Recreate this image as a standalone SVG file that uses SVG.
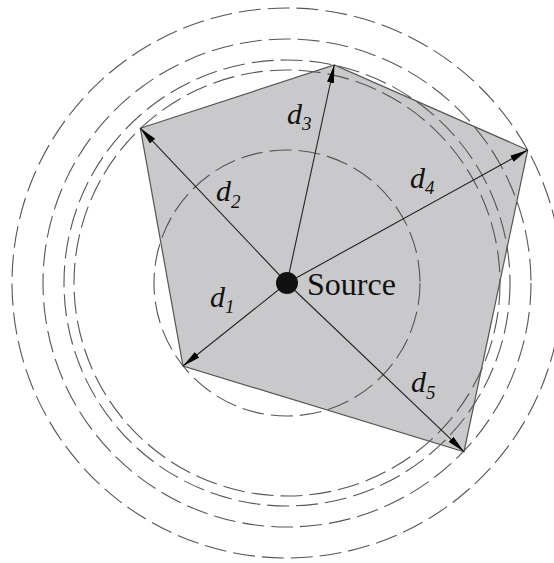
<svg xmlns="http://www.w3.org/2000/svg" width="554" height="563" viewBox="0 0 554 563">
<defs>
<style>
.circ{fill:none;stroke:#555;stroke-width:1.1;stroke-dasharray:22 7}
.ray{stroke:#222;stroke-width:1.1;fill:none;marker-end:url(#ah)}
.lbl{font-family:"Liberation Serif","Times New Roman",serif;font-style:italic;font-size:30px;fill:#111}
.sub{font-size:19px}
</style>
<marker id="ah" markerUnits="userSpaceOnUse" markerWidth="19" markerHeight="8" refX="18" refY="3.5" orient="auto">
<path d="M0,0 L18,3.5 L0,7 Z" fill="#000"/>
</marker>
</defs>
<rect width="554" height="563" fill="#fff"/>
<g id="region">
<polygon points="140.3,128.2 334.3,65 527.7,150 464,451.7 183,366" fill="#c9c9cb" stroke="#555" stroke-width="1.2" stroke-linejoin="miter"/>
</g>
<g id="circles">
<circle class="circ" cx="287" cy="283" r="133"/>
<circle class="circ" cx="287" cy="283" r="213"/>
<circle class="circ" cx="287" cy="283" r="223"/>
<circle class="circ" cx="287" cy="283" r="244"/>
<circle class="circ" cx="287" cy="283" r="275"/>
</g>
<g id="connectors">
<line class="ray" x1="287" y1="283" x2="183" y2="366"/>
<line class="ray" x1="287" y1="283" x2="140.3" y2="128.2"/>
<line class="ray" x1="287" y1="283" x2="334.3" y2="65"/>
<line class="ray" x1="287" y1="283" x2="527.7" y2="150"/>
<line class="ray" x1="287" y1="283" x2="464" y2="451.7"/>
</g>
<g id="source">
<circle cx="287" cy="283" r="11" fill="#111"/>
<text x="307" y="295" font-family="Liberation Serif, Times New Roman, serif" font-size="32" fill="#111">Source</text>
</g>
<g id="labels">
<text class="lbl" x="210" y="307">d<tspan class="sub" dy="6">1</tspan></text>
<text class="lbl" x="216" y="201">d<tspan class="sub" dy="7">2</tspan></text>
<text class="lbl" x="287" y="124">d<tspan class="sub" dy="6">3</tspan></text>
<text class="lbl" x="410" y="188">d<tspan class="sub" dy="6">4</tspan></text>
<text class="lbl" x="411" y="392">d<tspan class="sub" dy="7">5</tspan></text>
</g>
</svg>
